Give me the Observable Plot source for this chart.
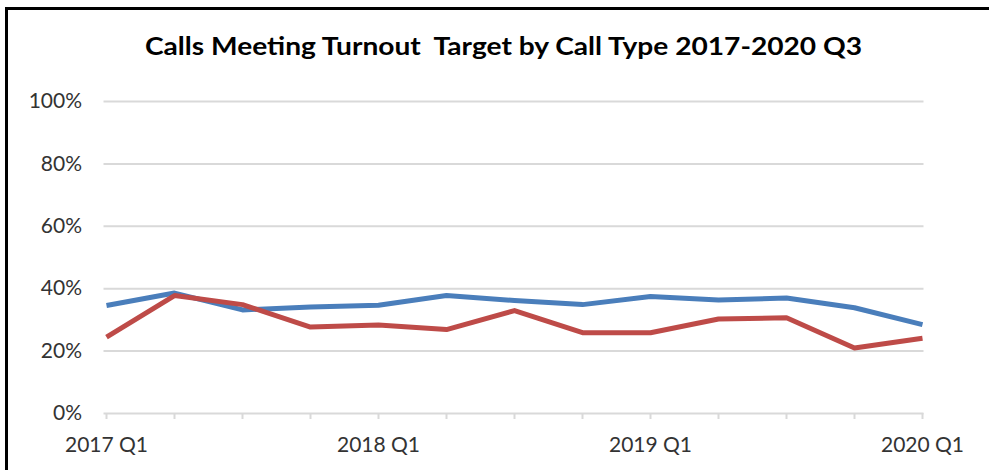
<!DOCTYPE html>
<html>
<head>
<meta charset="utf-8">
<script src="https://cdn.jsdelivr.net/npm/d3@7"></script>
<script src="https://cdn.jsdelivr.net/npm/@observablehq/plot@0.6"></script>
<style>
  html, body { margin: 0; padding: 0; background: #fff; }
  #wrap { position: relative; width: 989px; height: 470px; overflow: hidden; background: #fff; }
  #frame { position: absolute; left: 5px; top: 7px; width: 1010px; height: 500px; border: 3px solid #000; box-sizing: border-box; }
  #title { position: absolute; left: 145px; top: 33px; font: bold 25px Lato, sans-serif; color: #000; white-space: nowrap; line-height: 25px; transform-origin: 0 0; }
  #chart { position: absolute; left: 0; top: 0; }
</style>
</head>
<body>
<div id="wrap">
  <div id="frame"></div>
  <div id="chart"></div>
  <div id="title">Calls Meeting Turnout&nbsp; Target by Call Type 2017-2020 Q3</div>
</div>
<script>
// ---- data ----
const quarters = ["2017 Q1","2017 Q2","2017 Q3","2017 Q4","2018 Q1","2018 Q2","2018 Q3","2018 Q4","2019 Q1","2019 Q2","2019 Q3","2019 Q4","2020 Q1"];
const labeledQuarters = ["2017 Q1","2018 Q1","2019 Q1","2020 Q1"];
const seriesBlue = [34.6, 38.6, 33.2, 34.1, 34.7, 37.8, 36.2, 34.9, 37.5, 36.4, 37.0, 33.9, 28.5];
const seriesRed  = [24.5, 37.8, 34.9, 27.7, 28.4, 26.9, 33.0, 25.9, 25.9, 30.3, 30.7, 21.0, 24.1];
const yTicks = [0, 20, 40, 60, 80, 100];

const blueData = quarters.map((q, i) => ({q, v: seriesBlue[i]}));
const redData = quarters.map((q, i) => ({q, v: seriesRed[i]}));

const chart = Plot.plot({
  width: 989,
  height: 470,
  marginLeft: 103.5,
  marginRight: 65.5,
  marginTop: 101,
  marginBottom: 57,
  style: {fontFamily: "Lato, sans-serif", fontSize: "21px", color: "#333", background: "transparent", overflow: "visible"},
  x: {type: "point", domain: quarters, padding: 0},
  y: {domain: [0, 100]},
  marks: [
    Plot.gridY(yTicks, {stroke: "#d9d9d9", strokeOpacity: 1, strokeWidth: 2}),
    Plot.axisX({ticks: quarters, tickSize: 6, tickPadding: 18, stroke: "#d9d9d9", strokeWidth: 2, tickFormat: d => labeledQuarters.includes(d) ? d : "", label: null}),
    Plot.axisY({ticks: yTicks, tickSize: 0, tickPadding: 22, tickFormat: d => d + "%", label: null}),
    Plot.lineY(blueData, {x: "q", y: "v", stroke: "#4a7ebb", strokeWidth: 5, strokeLinejoin: "round", strokeLinecap: "butt"}),
    Plot.lineY(redData, {x: "q", y: "v", stroke: "#be4b48", strokeWidth: 5, strokeLinejoin: "round", strokeLinecap: "butt"})
  ]
});
document.getElementById("chart").appendChild(chart);

// fit title width to the reference's span
const t = document.getElementById("title");
const w = t.getBoundingClientRect().width;
t.style.transform = `scaleX(${717 / w})`;
</script>
</body>
</html>
